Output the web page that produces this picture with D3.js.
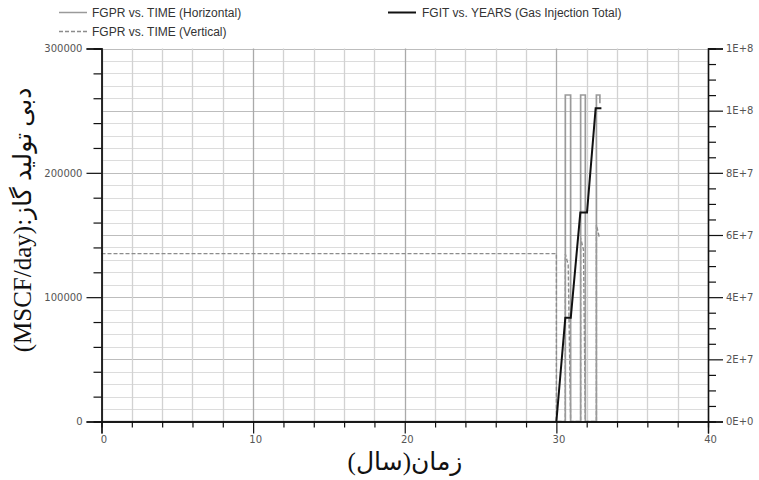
<!DOCTYPE html>
<html>
<head>
<meta charset="utf-8">
<script src="https://cdn.jsdelivr.net/npm/d3@7"></script>
<style>
  html, body { margin: 0; padding: 0; background: #fff; }
  svg { display: block; }
</style>
</head>
<body>
<svg id="chart" width="759" height="480"></svg>
<script>
// ---------------- data ----------------
const horizTime = [0, 30.59, 30.59, 30.94, 30.94, 31.6, 31.6, 31.91, 31.91, 32.64, 32.64, 32.87, 32.87];
const horizRate = [0, 0, 262600, 262600, 0, 0, 262600, 262600, 0, 0, 262600, 262600, 256000];

const vertTime = [0, 30, 30, 30.59, 30.59, 30.78, 30.94, 31.6, 31.6, 31.79, 31.91, 32.64, 32.64, 32.84];
const vertRate = [135000, 135000, 0, 0, 134700, 126000, 0, 0, 147600, 138000, 0, 0, 158100, 147600];

const fgitYears = [30, 30.59, 30.95, 31.58, 32.02, 32.59, 32.97];
const fgitTotal = [0, 33.4e6, 33.4e6, 67.2e6, 67.2e6, 100.8e6, 100.8e6];

const xTicks = [0, 10, 20, 30, 40];
const yLeftTicks = [0, 100000, 200000, 300000];
const yRightTicks = [0, 2e7, 4e7, 6e7, 8e7, 1e8, 1.2e8];
const yRightLabels = ["0E+0", "2E+7", "4E+7", "6E+7", "8E+7", "1E+8", "1E+8"];

const legendLabels = ["FGPR vs. TIME (Horizontal)", "FGPR vs. TIME (Vertical)", "FGIT vs. YEARS (Gas Injection Total)"];
const yTitle = "دبی تولید گاز:(MSCF/day)";
const xTitle = "زمان(سال)";

// ---------------- scales ----------------
const svg = d3.select("#chart");
const L = 101.5, R = 708, T = 48.5, B = 421.5;
const x = d3.scaleLinear().domain([0, 40]).range([L, R]);
const yL = d3.scaleLinear().domain([0, 300000]).range([B, T]);
const yR = d3.scaleLinear().domain([0, 1.2e8]).range([B, T]);

// ---------------- grid ----------------
const grid = svg.append("g");
grid.selectAll("line.hg").data(d3.range(0, 300001, 10000)).join("line")
  .attr("x1", L).attr("x2", R)
  .attr("y1", d => Math.round(yL(d)) + 0.5).attr("y2", d => Math.round(yL(d)) + 0.5)
  .attr("stroke", d => d % 50000 === 0 ? "#bdbdbd" : "#dcdcdc").attr("stroke-width", 1.2);
grid.selectAll("line.vg").data(d3.range(0, 41, 2)).join("line")
  .attr("y1", T).attr("y2", B)
  .attr("x1", d => Math.round(x(d)) + 0.5).attr("x2", d => Math.round(x(d)) + 0.5)
  .attr("stroke", d => d % 10 === 0 ? "#aaaaaa" : "#d2d2d2").attr("stroke-width", 1.3);

// ---------------- series ----------------
const lineGen = d3.line().x(d => x(d[0])).y(d => d[1]);
svg.append("path")
  .datum(vertTime.map((t, i) => [t, yL(vertRate[i])]))
  .attr("d", lineGen).attr("fill", "none")
  .attr("stroke", "#8c8c8c").attr("stroke-width", 1.4).attr("stroke-dasharray", "4,2");
svg.append("path")
  .datum(horizTime.map((t, i) => [t, yL(horizRate[i])]))
  .attr("d", lineGen).attr("fill", "none")
  .attr("stroke", "#9a9a9a").attr("stroke-width", 1.7);
svg.append("path")
  .datum(fgitYears.map((t, i) => [t, yR(fgitTotal[i])]))
  .attr("d", lineGen).attr("fill", "none")
  .attr("stroke", "#111").attr("stroke-width", 2);

// ---------------- axes ----------------
const tickFont = "'DejaVu Sans', sans-serif";
function styleAxis(g) {
  g.select(".domain").attr("stroke", "#111").attr("stroke-width", 1.3);
  g.selectAll(".tick line").attr("stroke", "#111").attr("stroke-width", 1.2);
  g.selectAll(".tick text").attr("fill", "#555").attr("font-family", tickFont).attr("font-size", "10px");
}
// left axis
const gLminor = svg.append("g").attr("transform", `translate(${L},0)`)
  .call(d3.axisLeft(yL).tickValues(d3.range(0, 300001, 20000).filter(v => v % 100000 !== 0)).tickSize(8).tickFormat(""));
styleAxis(gLminor);
const gL = svg.append("g").attr("transform", `translate(${L},0)`)
  .call(d3.axisLeft(yL).tickValues(yLeftTicks).tickSize(15).tickPadding(4).tickFormat(d3.format("d")));
styleAxis(gL);
// right axis
const gRminor = svg.append("g").attr("transform", `translate(${R},0)`)
  .call(d3.axisRight(yR).tickValues(d3.range(0, 1.2e8 + 1, 5e6).filter((v, i) => i % 4 !== 0)).tickSize(8).tickFormat(""));
styleAxis(gRminor);
const gR = svg.append("g").attr("transform", `translate(${R},0)`)
  .call(d3.axisRight(yR).tickValues(yRightTicks).tickSize(15).tickPadding(3)
    .tickFormat((d, i) => yRightLabels[i]));
styleAxis(gR);
// bottom axis
const gBminor = svg.append("g").attr("transform", `translate(0,${B})`)
  .call(d3.axisBottom(x).tickValues(d3.range(0, 41, 2).filter(v => v % 10 !== 0)).tickSize(6).tickFormat(""));
styleAxis(gBminor);
const gB = svg.append("g").attr("transform", `translate(0,${B})`)
  .call(d3.axisBottom(x).tickValues(xTicks).tickSize(12).tickPadding(2).tickFormat(d3.format("d")));
styleAxis(gB);
gB.selectAll(".tick text").attr("dx", "2px");

// ---------------- legend ----------------
const legFont = "'Liberation Sans', Arial, sans-serif";
const leg = svg.append("g");
const legItems = [
  {x1: 59, x2: 87, y: 12.5, color: "#9a9a9a", dash: null, w: 1.5, tx: 92, ty: 17},
  {x1: 59, x2: 87, y: 31.5, color: "#8c8c8c", dash: "4,2", w: 1.4, tx: 92, ty: 36},
  {x1: 388, x2: 416, y: 12.5, color: "#111", dash: null, w: 2, tx: 422, ty: 17}
];
legItems.forEach((it, i) => {
  leg.append("line").attr("x1", it.x1).attr("x2", it.x2).attr("y1", it.y).attr("y2", it.y)
    .attr("stroke", it.color).attr("stroke-width", it.w).attr("stroke-dasharray", it.dash);
  leg.append("text").attr("x", it.tx).attr("y", it.ty).text(legendLabels[i])
    .attr("font-family", legFont).attr("font-size", "12px").attr("fill", "#333");
});

// ---------------- titles ----------------
const titleFont = "'Liberation Serif', 'DejaVu Sans', serif";
svg.append("text")
  .attr("transform", "translate(31,220) rotate(-90)")
  .attr("text-anchor", "middle").attr("direction", "rtl")
  .attr("font-family", titleFont).attr("font-size", "25px").attr("fill", "#111")
  .text(yTitle);
svg.append("text")
  .attr("x", 405).attr("y", 470)
  .attr("text-anchor", "middle").attr("direction", "rtl")
  .attr("font-family", titleFont).attr("font-size", "25px").attr("fill", "#111")
  .text(xTitle);
</script>
</body>
</html>
